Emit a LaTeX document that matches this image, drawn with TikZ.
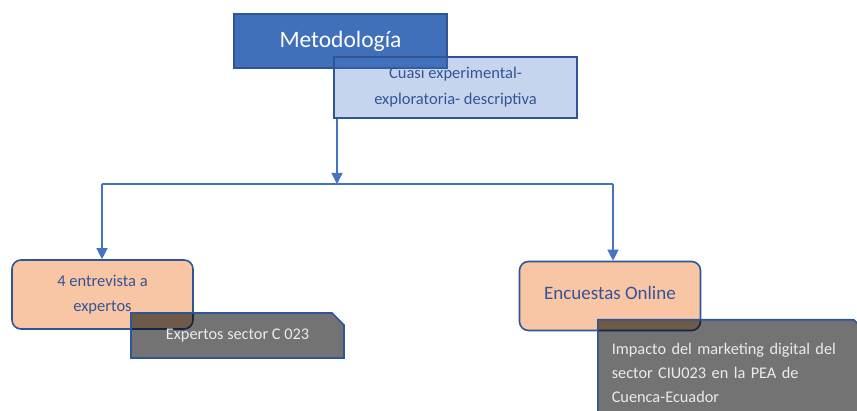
\documentclass[tikz,border=0pt]{standalone}
\usepackage{fontspec}
\setmainfont{Carlito}
\usetikzlibrary{arrows.meta,shapes,positioning,calc}

\definecolor{metblue}{RGB}{64,112,186}
\definecolor{edgeblue}{RGB}{47,85,151}
\definecolor{lineblue}{RGB}{68,114,196}
\definecolor{peach}{RGB}{248,198,164}
\definecolor{txtblue}{RGB}{52,84,150}

\begin{document}
\begin{tikzpicture}[x=1pt, y=-1pt,
    mainbox/.style={draw=edgeblue, line width=1.6pt, fill=metblue, text=white,
        minimum width=213pt, minimum height=54pt, font=\fontsize{23.5}{26}\selectfont},
    subbox/.style={draw=edgeblue, line width=1.6pt, fill=lineblue, fill opacity=0.3,
        text opacity=1, text=txtblue, align=center, minimum width=243pt,
        minimum height=61pt, font=\fontsize{16.5}{26}\selectfont},
    methodbox/.style={draw=edgeblue, line width=1.6pt, fill=peach, rounded corners=9pt,
        text=txtblue, align=center, minimum width=181pt, minimum height=69pt,
        font=\fontsize{16.5}{25}\selectfont},
    notebox/.style={chamfered rectangle, chamfered rectangle corners=north east,
        chamfered rectangle xsep=6pt, chamfered rectangle ysep=6pt,
        draw=edgeblue, line width=1.6pt, fill=black, fill opacity=0.55,
        text opacity=1, text=white!92!black, font=\fontsize{16.3}{24}\selectfont},
    flow/.style={draw=lineblue, line width=1.3pt},
    flowarrow/.style={flow, -{Triangle[width=11pt,length=11pt]}}]

          % Bounding box
          \useasboundingbox (0,0) rectangle (857,411);

          % Top boxes
          \node[mainbox] (met) at (340.5,41) {Metodología};
          \node[subbox] (cuasi) at (455.5,87.5) {Cuasi experimental-\\exploratoria- descriptiva};

          % Branch points
          \coordinate (split) at (337,184);
          \coordinate (L) at (102,184);
          \coordinate (R) at (613,184);

          % Method boxes
          \node[methodbox] (entrevista) at (102.5,294.5) {4 entrevista a\\expertos};
          \node[methodbox, font=\fontsize{19}{24}\selectfont] (encuestas) at (610,296)
                {\raisebox{7pt}{Encuestas Online}};

          % Notes
          \node[notebox, minimum width=213pt, minimum height=45pt] (expertos) at (237.5,335.5)
                {\raisebox{-3pt}{Expertos sector C 023}};
          \node[notebox, anchor=north west, minimum width=262pt, minimum height=106pt,
                text width=240pt, align=left, inner xsep=8pt] (impacto) at (597,319)
                {Impacto del marketing digital del\\sector CIU023 en la PEA de\\Cuenca-Ecuador};

          % Draw connectors
          \draw[flowarrow] (split |- cuasi.south) -- (split);
          \draw[flow] (L) -- (R);
          \draw[flowarrow] (L) -- (L |- entrevista.north);
          \draw[flowarrow] (R) -- (R |- encuestas.north);
\end{tikzpicture}
\end{document}
